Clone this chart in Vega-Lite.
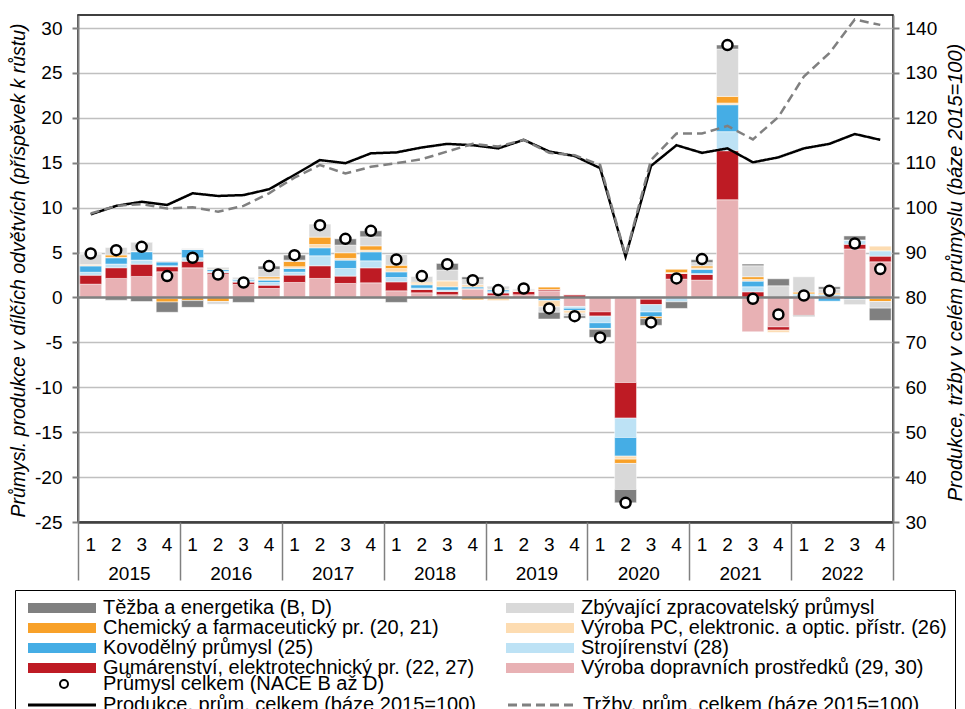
{
  "$schema": "https://vega.github.io/schema/vega-lite/v6.json",
  "width": 815,
  "height": 507,
  "autosize": {"type": "none"},
  "padding": {"left": 78, "top": 15, "right": 72, "bottom": 187},
  "background": "white",
  "config": {
    "font": "Liberation Sans",
    "view": {"stroke": "black", "strokeWidth": 1.5},
    "axis": {
      "labelFont": "Liberation Sans", "labelFontSize": 19, "labelColor": "black",
      "titleFont": "Liberation Sans", "titleFontSize": 19.5, "titleFontStyle": "italic", "titleFontWeight": "normal", "titleColor": "black",
      "domainColor": "#808080", "domainWidth": 2, "tickColor": "#808080", "tickWidth": 2,
      "gridColor": "#c0c0c0", "gridWidth": 1.5
    },
    "legend": {"labelFont": "Liberation Sans", "labelFontSize": 20, "labelColor": "black", "labelLimit": 700}
  },
  "datasets": {
    "series": [
      {"key": "dop", "label": "Výroba dopravních prostředků (29, 30)", "rank": 1},
      {"key": "gum", "label": "Gumárenství, elektrotechnický pr. (22, 27)", "rank": 2},
      {"key": "str", "label": "Strojírenství (28)", "rank": 3},
      {"key": "kov", "label": "Kovodělný průmysl (25)", "rank": 4},
      {"key": "pc", "label": "Výroba PC, elektronic. a optic. přístr. (26)", "rank": 5},
      {"key": "chem", "label": "Chemický a farmaceutický pr. (20, 21)", "rank": 6},
      {"key": "zby", "label": "Zbývající zpracovatelský průmysl", "rank": 7},
      {"key": "tez", "label": "Těžba a energetika (B, D)", "rank": 8}
    ],
    "q": [
      {"q": "2015-1", "year": "2015", "dop": 1.48, "gum": 1.0, "str": 0.33, "kov": 0.7, "pc": 0.1, "chem": 0.05, "zby": 1.2, "tez": 0, "total": 4.9, "prod": 98.5, "trz": 98.7},
      {"q": "2015-2", "year": "2015", "dop": 2.12, "gum": 1.19, "str": 0.41, "kov": 0.7, "pc": 0.05, "chem": 0.26, "zby": 0.84, "tez": -0.3, "total": 5.27, "prod": 100.4, "trz": 100.4},
      {"q": "2015-3", "year": "2015", "dop": 2.34, "gum": 1.37, "str": 0.45, "kov": 0.93, "pc": 0.05, "chem": 0, "zby": 1.0, "tez": -0.45, "total": 5.64, "prod": 101.3, "trz": 100.8},
      {"q": "2015-4", "year": "2015", "dop": 2.86, "gum": 0.56, "str": 0.1, "kov": 0.43, "pc": -0.1, "chem": -0.4, "zby": 0.1, "tez": -1.15, "total": 2.38, "prod": 100.6, "trz": 99.8},
      {"q": "2016-1", "year": "2016", "dop": 3.3, "gum": 0.74, "str": 0.37, "kov": 0.93, "pc": 0, "chem": -0.35, "zby": 0.12, "tez": -0.75, "total": 4.42, "prod": 103.2, "trz": 100.1},
      {"q": "2016-2", "year": "2016", "dop": 2.55, "gum": 0.19, "str": 0.19, "kov": 0.19, "pc": 0.1, "chem": -0.45, "zby": -0.3, "tez": 0.08, "total": 2.56, "prod": 102.6, "trz": 99.1},
      {"q": "2016-3", "year": "2016", "dop": 1.45, "gum": 0.26, "str": 0.15, "kov": 0.19, "pc": 0, "chem": 0, "zby": 0.19, "tez": -0.55, "total": 1.67, "prod": 102.8, "trz": 100.4},
      {"q": "2016-4", "year": "2016", "dop": 1.0, "gum": 0.37, "str": 0.3, "kov": 0.26, "pc": 0.15, "chem": 0.22, "zby": 0.82, "tez": 0.37, "total": 3.49, "prod": 104.1, "trz": 103.2},
      {"q": "2017-1", "year": "2017", "dop": 1.67, "gum": 0.82, "str": 0.33, "kov": 0.41, "pc": 0.19, "chem": 0.59, "zby": 0.15, "tez": 0.56, "total": 4.71, "prod": 107.3, "trz": 106.7},
      {"q": "2017-2", "year": "2017", "dop": 2.12, "gum": 1.41, "str": 1.11, "kov": 0.89, "pc": 0.37, "chem": 0.82, "zby": 1.45, "tez": -0.12, "total": 8.05, "prod": 110.6, "trz": 109.5},
      {"q": "2017-3", "year": "2017", "dop": 1.56, "gum": 0.82, "str": 0.85, "kov": 0.93, "pc": 0.19, "chem": 0.63, "zby": 0.85, "tez": 0.7, "total": 6.53, "prod": 109.9, "trz": 107.6},
      {"q": "2017-4", "year": "2017", "dop": 1.63, "gum": 1.67, "str": 0.78, "kov": 1.0, "pc": 0.19, "chem": 0.48, "zby": 1.0, "tez": 0.67, "total": 7.42, "prod": 112.1, "trz": 109.1},
      {"q": "2018-1", "year": "2018", "dop": 0.74, "gum": 1.0, "str": 0.48, "kov": 0.63, "pc": 0.37, "chem": 0.37, "zby": 1.19, "tez": -0.55, "total": 4.23, "prod": 112.3, "trz": 109.9},
      {"q": "2018-2", "year": "2018", "dop": 0.52, "gum": 0.37, "str": 0.15, "kov": 0.37, "pc": 0.19, "chem": 0.1, "zby": 0.67, "tez": 0, "total": 2.38, "prod": 113.4, "trz": 110.8},
      {"q": "2018-3", "year": "2018", "dop": 0.3, "gum": 0.37, "str": 0.15, "kov": 0.37, "pc": 0.67, "chem": 0, "zby": 1.19, "tez": 0.74, "total": 3.71, "prod": 114.2, "trz": 112.5},
      {"q": "2018-4", "year": "2018", "dop": 0.93, "gum": 0.05, "str": 0, "kov": 0.19, "pc": 0.26, "chem": -0.25, "zby": 0.56, "tez": 0.3, "total": 1.93, "prod": 113.9, "trz": 114.2},
      {"q": "2019-1", "year": "2019", "dop": 0.2, "gum": 0.3, "str": 0.15, "kov": 0.2, "pc": -0.35, "chem": 0.05, "zby": 0.2, "tez": 0.1, "total": 0.82, "prod": 113.2, "trz": 113.6},
      {"q": "2019-2", "year": "2019", "dop": 0.3, "gum": 0.4, "str": 0, "kov": 0, "pc": 0.05, "chem": 0, "zby": 0.2, "tez": 0, "total": 1.0, "prod": 115.1, "trz": 115.1},
      {"q": "2019-3", "year": "2019", "dop": 0.74, "gum": 0.15, "str": -0.05, "kov": -0.3, "pc": -0.7, "chem": 0.26, "zby": -0.6, "tez": -0.75, "total": -1.22, "prod": 112.5, "trz": 112.2},
      {"q": "2019-4", "year": "2019", "dop": -1.0, "gum": 0.3, "str": -0.2, "kov": -0.25, "pc": -0.3, "chem": 0, "zby": -0.3, "tez": -0.25, "total": -2.08, "prod": 111.5, "trz": 111.7},
      {"q": "2020-1", "year": "2020", "dop": -1.6, "gum": -0.48, "str": -0.74, "kov": -0.63, "pc": -0.1, "chem": 0, "zby": 0, "tez": -0.89, "total": -4.45, "prod": 108.8, "trz": 109.5},
      {"q": "2020-2", "year": "2020", "dop": -9.47, "gum": -3.97, "str": -2.15, "kov": -2.08, "pc": -0.33, "chem": -0.48, "zby": -2.9, "tez": -1.48, "total": -22.87, "prod": 89.1, "trz": 89.3},
      {"q": "2020-3", "year": "2020", "dop": -0.2, "gum": -0.6, "str": -0.82, "kov": -0.52, "pc": 0, "chem": -0.22, "zby": 0, "tez": -0.74, "total": -2.78, "prod": 109.3, "trz": 110.6},
      {"q": "2020-4", "year": "2020", "dop": 2.04, "gum": 0.63, "str": -0.48, "kov": 0, "pc": 0.1, "chem": 0.4, "zby": 0, "tez": -0.74, "total": 2.12, "prod": 113.9, "trz": 116.5},
      {"q": "2021-1", "year": "2021", "dop": 1.93, "gum": 0.63, "str": 0.1, "kov": 0.48, "pc": 0.15, "chem": 0.22, "zby": 0.37, "tez": 0.33, "total": 4.27, "prod": 112.2, "trz": 116.5},
      {"q": "2021-2", "year": "2021", "dop": 10.88, "gum": 5.46, "str": 2.12, "kov": 3.0, "pc": 0.19, "chem": 0.74, "zby": 5.27, "tez": 0.45, "total": 28.1, "prod": 113.2, "trz": 118.2},
      {"q": "2021-3", "year": "2021", "dop": -3.82, "gum": 0.63, "str": 0.56, "kov": 0.63, "pc": 0.19, "chem": 0.3, "zby": 1.22, "tez": 0.19, "total": -0.15, "prod": 110.1, "trz": 115.2},
      {"q": "2021-4", "year": "2021", "dop": -3.27, "gum": -0.37, "str": 0, "kov": 0, "pc": -0.25, "chem": 0, "zby": 1.3, "tez": 0.78, "total": -1.89, "prod": 111.2, "trz": 120.2},
      {"q": "2022-1", "year": "2022", "dop": -2.0, "gum": 0, "str": 0.3, "kov": 0.1, "pc": 0, "chem": 0.2, "zby": 1.7, "tez": -0.1, "total": 0.22, "prod": 113.2, "trz": 129.2},
      {"q": "2022-2", "year": "2022", "dop": 0, "gum": 0, "str": 0.33, "kov": -0.41, "pc": 0, "chem": 0.15, "zby": 0.45, "tez": 0.26, "total": 0.74, "prod": 114.2, "trz": 134.4},
      {"q": "2022-3", "year": "2022", "dop": 5.4, "gum": 0.52, "str": 0.48, "kov": -0.2, "pc": 0, "chem": 0, "zby": -0.6, "tez": 0.45, "total": 6.01, "prod": 116.4, "trz": 141.9},
      {"q": "2022-4", "year": "2022", "dop": 3.97, "gum": 0.63, "str": 0.59, "kov": -0.1, "pc": 0.52, "chem": -0.35, "zby": -0.74, "tez": -1.37, "total": 3.16, "prod": 115.1, "trz": 140.7}
    ]
  },
  "data": {"name": "q"},
  "layer": [
    {
      "layer": [
        {
          "transform": [
            {"fold": ["dop", "gum", "str", "kov", "pc", "chem", "zby", "tez"], "as": ["key", "v"]},
            {"lookup": "key", "from": {"data": {"name": "series"}, "key": "key", "fields": ["label", "rank"]}}
          ],
          "mark": {"type": "bar", "stroke": "white", "strokeWidth": 0.5},
          "encoding": {
            "x": {
              "field": "q", "type": "ordinal",
              "scale": {"paddingInner": 0.14, "paddingOuter": 0.07},
              "axis": {"orient": "bottom", "title": null, "labelExpr": "slice(datum.value, 5)", "labelAngle": 0, "ticks": false, "labelPadding": 13, "domain": true, "domainColor": "#404040", "domainWidth": 2.5, "grid": false}
            },
            "y": {
              "field": "v", "type": "quantitative", "stack": "zero",
              "scale": {"domain": [-25, 31.45], "nice": false, "zero": false},
              "axis": {"orient": "left", "values": [-25, -20, -15, -10, -5, 0, 5, 10, 15, 20, 25, 30], "labelExpr": "'' + datum.value", "grid": true, "tickSize": 6, "labelPadding": 10, "title": "Průmysl. produkce v dílčích odvětvích (příspěvek k růstu)", "titleX": -60, "titleY": 255, "titleAngle": -90, "titleAlign": "center", "titleBaseline": "middle"}
            },
            "fill": {
              "field": "label", "type": "nominal",
              "scale": {
                "domain": ["Těžba a energetika (B, D)", "Chemický a farmaceutický pr. (20, 21)", "Kovodělný průmysl (25)", "Gumárenství, elektrotechnický pr. (22, 27)", " ", "  ", "Zbývající zpracovatelský průmysl", "Výroba PC, elektronic. a optic. přístr. (26)", "Strojírenství (28)", "Výroba dopravních prostředků (29, 30)", "   ", "    "],
                "range": ["#808080", "#f8a129", "#45ade5", "#be1b24", "transparent", "transparent", "#d9d9d9", "#fddcb1", "#bde2f5", "#e8b1b4", "transparent", "transparent"]
              },
              "legend": {
                "orient": "none", "legendX": -63, "legendY": 575, "columns": 2, "title": null,
                "symbolType": "M-1,-1H12.6V1H-1Z", "symbolSize": 100, "symbolStrokeWidth": 0,
                "labelOffset": 60, "rowPadding": 0, "columnPadding": 26, "padding": 8, "strokeColor": "black"
              }
            },
            "order": {"field": "rank", "type": "quantitative", "sort": "ascending"}
          }
        },
        {
          "data": {"values": [{}]},
          "mark": {"type": "rule", "color": "#808080", "strokeWidth": 2.5},
          "encoding": {
            "y": {"datum": 0, "type": "quantitative", "scale": {"domain": [-25, 31.45], "nice": false, "zero": false}}
          }
        },
        {
          "mark": {"type": "point", "filled": true, "fill": "white", "stroke": "black", "strokeWidth": 2.5, "size": 100, "opacity": 1},
          "encoding": {
            "x": {"field": "q", "type": "ordinal"},
            "y": {"field": "total", "type": "quantitative", "scale": {"domain": [-25, 31.45], "nice": false, "zero": false}},
            "shape": {
              "datum": "Průmysl celkem (NACE B až D)", "type": "nominal",
              "scale": {"range": ["circle"]},
              "legend": {"orient": "none", "legendX": -24, "legendY": 659, "title": null, "symbolSize": 64, "symbolStrokeWidth": 2, "labelOffset": 29, "padding": 0}
            }
          }
        }
      ]
    },
    {
      "layer": [
        {
          "mark": {"type": "line", "strokeWidth": 2.5},
          "encoding": {
            "x": {"field": "q", "type": "ordinal", "axis": null},
            "y": {
              "field": "prod", "type": "quantitative",
              "scale": {"domain": [30, 142.9], "nice": false, "zero": false},
              "axis": {"orient": "right", "values": [30, 40, 50, 60, 70, 80, 90, 100, 110, 120, 130, 140], "grid": false, "tickSize": 6, "labelPadding": 6, "title": "Produkce, tržby v celém průmyslu (báze 2015=100)", "titleFontSize": 20, "titleX": 62, "titleY": 257, "titleAngle": -90, "titleAlign": "center", "titleBaseline": "middle"}
            },
            "stroke": {
              "datum": "Produkce, prům. celkem (báze 2015=100)", "type": "nominal",
              "scale": {"domain": ["Produkce, prům. celkem (báze 2015=100)", "Tržby, prům. celkem (báze 2015=100)"], "range": ["black", "#808080"]},
              "legend": {"orient": "none", "legendX": -63, "legendY": 672, "columns": 2, "title": null, "symbolType": "M-1,0H12.6", "symbolSize": 100, "symbolStrokeWidth": 3, "labelOffset": 60, "rowPadding": 0, "columnPadding": 26, "padding": 8}
            },
            "strokeDash": {
              "datum": "Produkce, prům. celkem (báze 2015=100)", "type": "nominal",
              "scale": {"domain": ["Produkce, prům. celkem (báze 2015=100)", "Tržby, prům. celkem (báze 2015=100)"], "range": [[1, 0], [9, 5]]},
              "legend": {"orient": "none", "legendX": -63, "legendY": 672, "columns": 2, "title": null, "symbolType": "M-1,0H12.6", "symbolSize": 100, "symbolStrokeWidth": 3, "labelOffset": 60, "rowPadding": 0, "columnPadding": 26, "padding": 8}
            }
          }
        },
        {
          "mark": {"type": "line", "strokeWidth": 2.5},
          "encoding": {
            "x": {"field": "q", "type": "ordinal", "axis": null},
            "y": {"field": "trz", "type": "quantitative", "scale": {"domain": [30, 142.9], "nice": false, "zero": false}},
            "stroke": {"datum": "Tržby, prům. celkem (báze 2015=100)", "type": "nominal"},
            "strokeDash": {"datum": "Tržby, prům. celkem (báze 2015=100)", "type": "nominal"}
          }
        }
      ]
    },
    {
      "mark": {"type": "bar", "opacity": 0},
      "encoding": {
        "x": {
          "field": "year", "type": "ordinal",
          "scale": {"paddingInner": 0, "paddingOuter": 0},
          "axis": {"orient": "bottom", "title": null, "domain": false, "ticks": true, "tickBand": "extent", "tickSize": 58, "tickColor": "#808080", "tickWidth": 1.5, "labelPadding": -16, "labelAngle": 0, "grid": false}
        }
      }
    }
  ],
  "resolve": {
    "scale": {"x": "independent", "y": "independent"},
    "axis": {"x": "independent", "y": "independent"}
  }
}
